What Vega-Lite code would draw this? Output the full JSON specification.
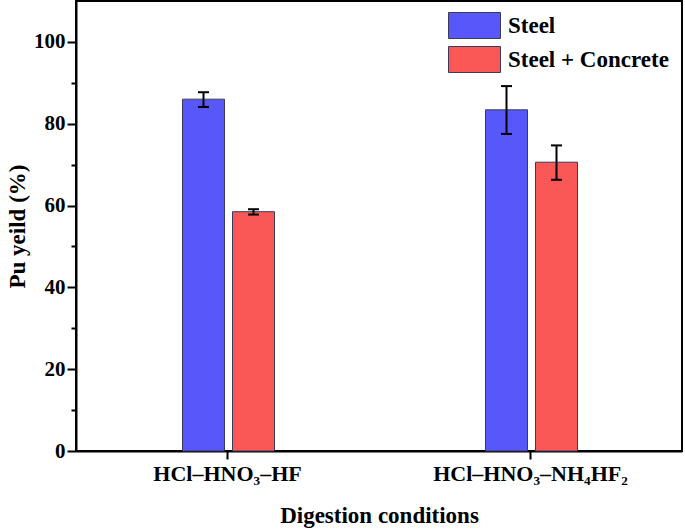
{
  "$schema": "https://vega.github.io/schema/vega-lite/v6.json",
  "width": 606,
  "height": 450,
  "autosize": "none",
  "padding": {"left": 76, "top": 1, "right": 3, "bottom": 81},
  "background": "white",
  "config": {
    "view": {"stroke": "black", "strokeWidth": 2},
    "font": "Liberation Serif, Times New Roman, serif",
    "axis": {
      "labelFont": "Liberation Serif, Times New Roman, serif",
      "labelFontWeight": "bold",
      "labelFontSize": 21,
      "labelColor": "black",
      "labelLimit": 0,
      "titleFont": "Liberation Serif, Times New Roman, serif",
      "titleFontWeight": "bold",
      "titleFontSize": 23,
      "titleColor": "black",
      "domainColor": "black",
      "domainWidth": 2,
      "tickColor": "black",
      "tickWidth": 2,
      "grid": false
    },
    "legend": {
      "labelFont": "Liberation Serif, Times New Roman, serif",
      "labelFontWeight": "bold",
      "labelFontSize": 23,
      "labelColor": "black",
      "labelLimit": 0
    }
  },
  "data": {
    "values": [
      {"cond": "HCl–HNO₃–HF", "series": "Steel", "value": 86.0, "lo": 84.1, "hi": 87.7},
      {"cond": "HCl–HNO₃–HF", "series": "Steel + Concrete", "value": 58.5, "lo": 57.8, "hi": 59.1},
      {"cond": "HCl–HNO₃–NH₄HF₂", "series": "Steel", "value": 83.4, "lo": 77.5, "hi": 89.2},
      {"cond": "HCl–HNO₃–NH₄HF₂", "series": "Steel + Concrete", "value": 70.6, "lo": 66.3, "hi": 74.7}
    ]
  },
  "encoding": {
    "x": {
      "field": "cond",
      "type": "nominal",
      "sort": ["HCl–HNO₃–HF", "HCl–HNO₃–NH₄HF₂"],
      "scale": {"paddingInner": 0, "paddingOuter": 0},
      "axis": {"labelAngle": 0, "tickSize": 8, "labelPadding": 4, "labelFontSize": 22, "title": "Digestion conditions", "titlePadding": 20}
    },
    "xOffset": {
      "field": "series",
      "type": "nominal",
      "sort": ["Steel", "Steel + Concrete"],
      "scale": {"range": [106.5, 198.5], "paddingInner": 0.16, "paddingOuter": 0}
    }
  },
  "layer": [
    {
      "mark": {"type": "bar", "stroke": "#3a3a5a", "strokeWidth": 1},
      "encoding": {
        "y": {
          "field": "value",
          "type": "quantitative",
          "scale": {"domain": [0, 110], "nice": false, "zero": true},
          "axis": {
            "values": [0, 10, 20, 30, 40, 50, 60, 70, 80, 90, 100],
            "labelExpr": "datum.value % 20 === 0 ? datum.label : ''",
            "tickSize": {"condition": {"test": "datum.value % 20 === 0", "value": 9}, "value": 5},
            "labelPadding": 2,
            "title": "Pu yeild (%)",
            "titlePadding": 4
          }
        },
        "color": {
          "field": "series",
          "type": "nominal",
          "sort": ["Steel", "Steel + Concrete"],
          "scale": {"range": ["#5757FA", "#FA5757"]},
          "legend": {
            "title": null,
            "orient": "none",
            "legendX": 385,
            "legendY": 11,
            "symbolType": "M-2,-1H2V1H-2Z",
            "symbolSize": 676,
            "symbolStrokeColor": "#3a3a5a",
            "symbolStrokeWidth": 1,
            "symbolOpacity": 1,
            "labelOffset": 20,
            "rowPadding": 3,
            "padding": 0
          }
        }
      }
    },
    {
      "mark": {"type": "rule", "color": "black", "strokeWidth": 2},
      "encoding": {
        "y": {"field": "lo", "type": "quantitative"},
        "y2": {"field": "hi"}
      }
    },
    {
      "mark": {"type": "tick", "color": "black", "thickness": 2, "size": 11, "orient": "horizontal", "opacity": 1},
      "encoding": {"y": {"field": "lo", "type": "quantitative"}}
    },
    {
      "mark": {"type": "tick", "color": "black", "thickness": 2, "size": 11, "orient": "horizontal", "opacity": 1},
      "encoding": {"y": {"field": "hi", "type": "quantitative"}}
    }
  ]
}
